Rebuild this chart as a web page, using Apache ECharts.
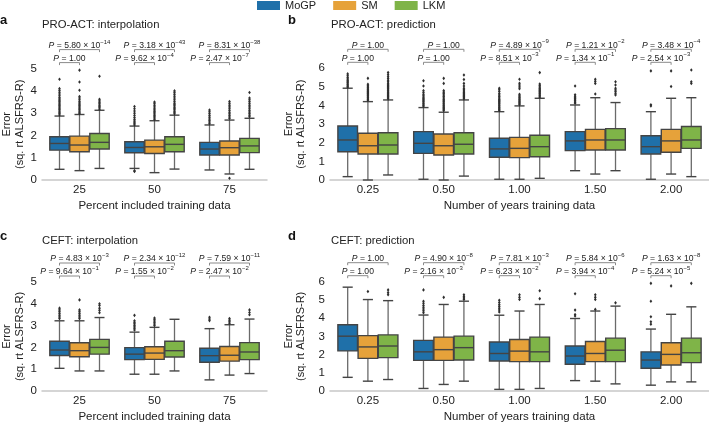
<!DOCTYPE html>
<html>
<head>
<meta charset="utf-8">
<script src="https://cdn.jsdelivr.net/npm/echarts@6/dist/echarts.min.js"></script>
<style>html,body{margin:0;padding:0;background:#fff;}#c{width:709px;height:424px;}</style>
</head>
<body>
<div id="c"></div>
<script>
// ---------- data ----------
const models = ['MoGP', 'SM', 'LKM'];
const catsA = ['25', '50', '75'];
const catsB = ['0.25', '0.50', '1.00', '1.50', '2.00'];

// box stats per category: [min, q1, median, q3, max]
const aMoGP = [[0.48,1.34,1.64,1.94,2.87],[0.52,1.22,1.46,1.72,2.42],[0.45,1.12,1.39,1.69,2.47]];
const aSM   = [[0.42,1.27,1.57,1.97,2.94],[0.33,1.19,1.49,1.79,2.66],[0.27,1.12,1.45,1.75,2.69]];
const aLKM  = [[0.52,1.39,1.69,2.09,3.13],[0.49,1.27,1.60,1.94,2.91],[0.48,1.23,1.53,1.87,2.77]];

const bMoGP = [[0.18,1.52,2.15,2.90,4.93],[0.04,1.43,1.97,2.60,3.89],[0.04,1.22,1.67,2.24,3.67],[0.50,1.58,2.10,2.60,4.03],[0.04,1.40,1.79,2.38,3.67]];
const bSM   = [[0.00,1.40,1.84,2.51,4.21],[0.00,1.34,1.84,2.47,3.64],[0.04,1.20,1.70,2.29,3.98],[0.32,1.61,2.15,2.72,4.42],[0.32,1.49,2.10,2.72,4.39]];
const bLKM  = [[0.27,1.40,1.88,2.54,4.30],[0.21,1.40,1.92,2.54,4.30],[0.09,1.25,1.79,2.40,4.39],[0.50,1.61,2.15,2.76,4.16],[0.18,1.70,2.15,2.87,4.42]];

const cMoGP = [[1.04,1.63,1.88,2.28,3.22],[0.77,1.44,1.69,1.99,2.70],[0.51,1.32,1.62,1.96,2.86]];
const cSM   = [[0.92,1.57,1.85,2.21,3.22],[0.77,1.45,1.74,2.03,2.92],[0.73,1.37,1.64,2.04,3.04]];
const cLKM  = [[0.92,1.69,2.00,2.37,3.37],[0.92,1.56,1.85,2.28,3.29],[0.80,1.44,1.79,2.22,3.30]];

const dMoGP = [[0.75,2.20,3.01,3.64,5.70],[0.14,1.68,2.15,2.78,4.17],[0.09,1.65,2.06,2.69,4.16],[0.57,1.47,1.92,2.47,3.98],[0.32,1.25,1.70,2.15,3.40]];
const dSM   = [[0.54,1.79,2.42,3.04,5.02],[0.36,1.68,2.27,2.96,4.75],[0.09,1.61,2.19,2.83,4.39],[0.54,1.61,2.06,2.72,4.39],[0.50,1.43,2.01,2.65,4.21]];
const dLKM  = [[0.63,1.83,2.47,3.08,4.96],[0.54,1.70,2.38,3.01,4.93],[0.14,1.61,2.15,2.96,4.75],[0.39,1.61,2.24,2.90,4.66],[0.50,1.56,2.10,2.90,4.62]];

// outliers (fliers) per category
const aMoGPOut = [[2.92,2.98,3.04,3.10,3.16,3.22,3.28,3.34,3.40,3.46,3.52,3.58,3.64,3.70,3.78,3.86,3.94,4.02,4.10,4.52],
                  [0.38,0.42,2.47,2.53,2.59,2.65,2.72,2.80,2.90,3.00,3.10,3.20,3.30],
                  [2.53,2.60,2.67,2.74,2.82,2.90,2.98,3.06,3.14]];
const aSMOut   = [[2.98,3.04,3.10,3.16,3.22,3.28,3.34,3.40,3.46,3.52,3.60,3.68,3.75,4.03,4.40,4.93],
                  [2.72,2.78,2.84,2.90,2.96,3.02,3.08,3.14,3.20,3.28,3.36,3.44,3.50],
                  [0.08,2.76,2.83,2.90,2.97,3.04,3.12,3.20,3.28,3.36,3.44,3.52]];
const aLKMOut  = [[3.18,3.24,3.30,3.36,3.42,3.48,3.55,3.62,4.66],
                  [2.97,3.03,3.09,3.15,3.21,3.27,3.33,3.39,3.45,3.52,3.60,3.68,3.76,3.84,3.92,4.00],
                  [2.84,2.91,2.98,3.05,3.12,3.20,3.28,3.36,3.44,3.52,3.60,3.68,3.93]];

const bMoGPOut = [[4.98,5.04,5.10,5.16,5.22,5.28,5.34,5.42,5.50,5.60,5.70],
                  [3.96,4.02,4.08,4.14,4.20,4.26,4.32,4.38,4.45,4.52,4.60,4.70,4.80,5.05,5.33],
                  [3.73,3.79,3.85,3.91,3.97,4.03,4.09,4.15,4.21,4.27,4.33,4.40,4.48,4.56,4.65,4.75,4.85,4.93],
                  [4.12,4.18,4.24,4.30,4.36,4.42,4.50,4.58,5.05],
                  [3.98,4.04,5.86]];
const bSMOut   = [[4.28,4.34,4.40,4.46,4.52,4.58,4.64,4.70,4.76,4.82,4.88,4.94,5.00,5.06,5.14,5.46],
                  [3.72,3.78,3.84,3.90,3.96,4.02,4.08,4.14,4.20,4.26,4.32,4.40,4.48,4.56,4.64,4.72,4.80,5.19,5.46],
                  [4.04,4.10,4.16,4.22,4.28,4.34,4.40,4.46,4.52,4.60,4.90,5.00,5.10,5.20,5.41],
                  [4.62,5.19,5.30,5.41],
                  [5.02,5.86]];
const bLKMOut  = [[4.36,4.42,4.48,4.54,4.60,4.66,4.72,4.78,4.84,4.90,4.96,5.02,5.08,5.14,5.20,5.28,5.36,5.45,5.55,5.65,5.77],
                  [4.36,4.42,4.48,4.54,4.60,4.66,4.72,4.78,4.85,4.93,5.05,5.19,5.40,5.64],
                  [4.45,4.51,4.57,4.63,4.69,4.75,4.81,4.87,4.93,5.00,5.08,5.16,5.77],
                  [4.57,4.66,4.75,4.84,4.93,5.10,5.28],
                  [5.19,5.28,5.91]];

const cMoGPOut = [[3.32,3.40,3.48,3.56,3.64,3.72,3.80],
                  [2.80,2.87,2.94,3.01,3.08,3.15,3.22,3.47],
                  [3.23,3.30,3.38]];
const cSMOut   = [[3.32,3.40,3.48,3.56,3.64,3.72,4.18],
                  [3.00,3.07,3.14,3.21,3.28,3.35],
                  [3.11,3.18,3.25,3.32]];
const cLKMOut  = [[3.59,3.70,3.80,3.92,4.00],
                  [],
                  [3.50,3.60,3.72]];

const dMoGPOut = [[],
                  [4.30,4.40,4.50,4.60,4.70,4.82,4.93,5.55],
                  [4.34,4.44,4.54,4.64,4.74,4.86,4.98],
                  [4.12,4.20,4.44,5.34],
                  [3.67,3.80,4.08,4.93,5.91]];
const dSMOut   = [[5.46],
                  [5.14],
                  [5.02,5.14,5.28],
                  [4.48,5.02,5.14,5.28],
                  [5.77]];
const dLKMOut  = [[5.28,5.40,5.55],
                  [5.02,5.10,5.18,5.28],
                  [5.07,5.50],
                  [4.84],
                  [5.91]];

// P-values: [mantissa, exponent]
const aPLow  = [['1.00',''],['9.62','−4'],['2.47','−7']];
const aPHigh = [['5.80','−14'],['3.18','−43'],['8.31','−38']];
const bPLow  = [['1.00',''],['1.00',''],['8.51','−3'],['1.34','−1'],['2.54','−3']];
const bPHigh = [['1.00',''],['1.00',''],['4.89','−9'],['1.21','−2'],['3.48','−4']];
const cPLow  = [['9.64','−1'],['1.55','−2'],['2.47','−2']];
const cPHigh = [['4.83','−3'],['2.34','−12'],['7.59','−11']];
const dPLow  = [['1.00',''],['2.16','−3'],['6.23','−2'],['3.94','−4'],['5.24','−5']];
const dPHigh = [['1.00',''],['4.90','−8'],['7.81','−3'],['5.84','−6'],['1.63','−8']];

// ---------- styling ----------
const FONT = 'Liberation Sans, Arial, Helvetica, sans-serif';
const modelColors = ['#1f70a9', '#e6a23a', '#7fb448'];
const lineCol = '#444444';
const txtCol = '#222222';

function boxItem(m) {
  return function (params, api) {
    const cat = api.value(0);
    const band = api.size([1, 0])[0];
    const w = band * 0.8 / 3;
    const cx = api.coord([cat, 0])[0] + (m - 1) * w;
    const y = k => api.coord([cat, api.value(k)])[1];
    const yMin = y(1), yQ1 = y(2), yMed = y(3), yQ3 = y(4), yMax = y(5);
    const half = w * 0.97 / 2, cap = w / 4;
    const ls = { stroke: lineCol, lineWidth: 1.4 };
    return { type: 'group', children: [
      { type: 'line', shape: { x1: cx, y1: yQ3, x2: cx, y2: yMax }, style: { stroke: '#6a6a6a', lineWidth: 1.3 } },
      { type: 'line', shape: { x1: cx, y1: yQ1, x2: cx, y2: yMin }, style: { stroke: '#6a6a6a', lineWidth: 1.3 } },
      { type: 'line', shape: { x1: cx - cap, y1: yMax, x2: cx + cap, y2: yMax }, style: ls },
      { type: 'line', shape: { x1: cx - cap, y1: yMin, x2: cx + cap, y2: yMin }, style: ls },
      { type: 'rect', shape: { x: cx - half, y: yQ3, width: 2 * half, height: yQ1 - yQ3 },
        style: { fill: modelColors[m], stroke: lineCol, lineWidth: 1.4 } },
      { type: 'line', shape: { x1: cx - half, y1: yMed, x2: cx + half, y2: yMed }, style: ls }
    ] };
  };
}

function flierItem(m) {
  return function (params, api) {
    const cat = api.value(0);
    const band = api.size([1, 0])[0];
    const w = band * 0.8 / 3;
    const p = api.coord([cat, api.value(1)]);
    const cx = p[0] + (m - 1) * w, cy = p[1];
    const r = 1.8;
    return { type: 'polygon', shape: { points: [[cx, cy - r], [cx + r * 0.75, cy], [cx, cy + r], [cx - r * 0.75, cy]] },
      style: { fill: '#2e2e2e' } };
  };
}

function pText(p) {
  return p[1] ? '{i|P}{n| = ' + p[0] + ' × 10}{s|' + p[1] + '}' : '{i|P}{n| = ' + p[0] + '}';
}
const pRich = {
  i: { fontStyle: 'italic', fontSize: 8.6, lineHeight: 10, verticalAlign: 'bottom', fill: txtCol, fontFamily: FONT },
  n: { fontSize: 8.6, lineHeight: 10, verticalAlign: 'bottom', fill: txtCol, fontFamily: FONT },
  s: { fontSize: 6, lineHeight: 6.5, padding: [0, 0, 5, 0], verticalAlign: 'bottom', fill: txtCol, fontFamily: FONT }
};

function bracketItem(pLow, pHigh, yMax) {
  return function (params, api) {
    const cat = api.value(0);
    const band = api.size([1, 0])[0];
    const w = band * 0.8 / 3;
    const top = api.coord([cat, yMax]);
    const cx = top[0];
    const x0 = cx - w, x1 = cx, x2 = cx + w;
    const yl = top[1] - 6, yh = top[1] - 19, t = 2.5;
    const bs = { stroke: '#8a8a8a', lineWidth: 1, fill: null };
    const i = params.dataIndex;
    return { type: 'group', children: [
      { type: 'polyline', shape: { points: [[x0, yl + t], [x0, yl], [x1, yl], [x1, yl + t]] }, style: bs },
      { type: 'polyline', shape: { points: [[x0, yh + t], [x0, yh], [x2, yh], [x2, yh + t]] }, style: bs },
      { type: 'text', style: { text: pText(pLow[i]), x: (x0 + x1) / 2, y: yl + 0.5, align: 'center', verticalAlign: 'bottom', rich: pRich, fill: txtCol, fontSize: 8.6, fontFamily: FONT } },
      { type: 'text', style: { text: pText(pHigh[i]), x: cx, y: yh + 0.5, align: 'center', verticalAlign: 'bottom', rich: pRich, fill: txtCol, fontSize: 8.6, fontFamily: FONT } }
    ] };
  };
}

const panels = [
  { cats: catsA, stats: [aMoGP, aSM, aLKM], outs: [aMoGPOut, aSMOut, aLKMOut], pLow: aPLow, pHigh: aPHigh, yMax: 5,
    grid: { left: 42, top: 68.6, width: 225, height: 111.4 }, xName: 'Percent included training data', nameGap: 16 },
  { cats: catsB, stats: [bMoGP, bSM, bLKM], outs: [bMoGPOut, bSMOut, bLKMOut], pLow: bPLow, pHigh: bPHigh, yMax: 6,
    grid: { left: 330, top: 68.3, width: 379, height: 111.7 }, xName: 'Number of years training data', nameGap: 18 },
  { cats: catsA, stats: [cMoGP, cSM, cLKM], outs: [cMoGPOut, cSMOut, cLKMOut], pLow: cPLow, pHigh: cPHigh, yMax: 5,
    grid: { left: 42, top: 282, width: 225, height: 112 }, xName: 'Percent included training data', nameGap: 16 },
  { cats: catsB, stats: [dMoGP, dSM, dLKM], outs: [dMoGPOut, dSMOut, dLKMOut], pLow: dPLow, pHigh: dPHigh, yMax: 6,
    grid: { left: 330, top: 281.7, width: 379, height: 111.7 }, xName: 'Number of years training data', nameGap: 18 }
];

const grids = [], xAxes = [], yAxes = [], series = [];
panels.forEach((P, k) => {
  grids.push(P.grid);
  xAxes.push({
    type: 'category', gridIndex: k, data: P.cats,
    axisTick: { show: false },
    axisLine: { lineStyle: { color: '#c8c8c8', width: 1.5 } },
    axisLabel: { color: txtCol, fontSize: 11.5, fontFamily: FONT, margin: 4 },
    name: P.xName, nameLocation: 'middle', nameGap: 20,
    nameTextStyle: { color: txtCol, fontSize: 11.5, fontFamily: FONT }
  });
  yAxes.push({
    type: 'value', gridIndex: k, min: 0, max: P.yMax, interval: 1,
    axisLine: { show: false }, axisTick: { show: false }, splitLine: { show: false },
    axisLabel: { color: txtCol, fontSize: 11.5, fontFamily: FONT, margin: 5 },
    name: 'Error\n(sq. rt ALSFRS-R)', nameLocation: 'middle', nameRotate: 90, nameGap: P.nameGap,
    nameTextStyle: { color: txtCol, fontSize: 11, lineHeight: 12.5, fontFamily: FONT }
  });
  for (let m = 0; m < 3; m++) {
    series.push({
      type: 'custom', name: models[m], xAxisIndex: k, yAxisIndex: k,
      itemStyle: { color: modelColors[m] },
      renderItem: boxItem(m),
      encode: { x: 0, y: [1, 2, 3, 4, 5] },
      data: P.stats[m].map((s, i) => [i].concat(s)),
      silent: true
    });
  }
  for (let m = 0; m < 3; m++) {
    const pts = [];
    P.outs[m].forEach((arr, i) => arr.forEach(v => pts.push([i, v])));
    series.push({
      type: 'custom', name: models[m] + ' outliers', xAxisIndex: k, yAxisIndex: k, z: 3,
      renderItem: flierItem(m), encode: { x: 0, y: 1 }, data: pts, silent: true
    });
  }
  series.push({
    type: 'custom', name: 'brackets', xAxisIndex: k, yAxisIndex: k, clip: false,
    renderItem: bracketItem(P.pLow, P.pHigh, P.yMax), encode: { x: 0, y: 1 },
    data: P.cats.map((c, i) => [i, 0]), silent: true
  });
});

const titleStyle = { color: txtCol, fontSize: 11.3, fontWeight: 'normal', fontFamily: FONT };
const letterStyle = { color: '#111', fontSize: 13, fontWeight: 'bold', fontFamily: FONT };

const option = {
  animation: false,
  backgroundColor: '#ffffff',
  textStyle: { fontFamily: FONT },
  title: [
    { text: 'a', left: 0, top: 14, padding: 0, textStyle: letterStyle },
    { text: 'PRO-ACT: interpolation', left: 42, top: 19.5, padding: 0, textStyle: titleStyle },
    { text: 'b', left: 288, top: 14, padding: 0, textStyle: letterStyle },
    { text: 'PRO-ACT: prediction', left: 331, top: 19.5, padding: 0, textStyle: titleStyle },
    { text: 'c', left: 0, top: 229.5, padding: 0, textStyle: letterStyle },
    { text: 'CEFT: interpolation', left: 42, top: 235.5, padding: 0, textStyle: titleStyle },
    { text: 'd', left: 288, top: 229.5, padding: 0, textStyle: letterStyle },
    { text: 'CEFT: prediction', left: 331, top: 235.5, padding: 0, textStyle: titleStyle }
  ],
  legend: {
    data: models, left: 257, top: 0, padding: 0, icon: 'rect',
    itemWidth: 23, itemHeight: 9, itemGap: 17, selectedMode: false,
    textStyle: { color: txtCol, fontSize: 11, fontFamily: FONT }
  },
  grid: grids, xAxis: xAxes, yAxis: yAxes, series: series
};

const chart = echarts.init(document.getElementById('c'), null, { renderer: 'canvas' });
chart.setOption(option);
</script>
</body>
</html>
